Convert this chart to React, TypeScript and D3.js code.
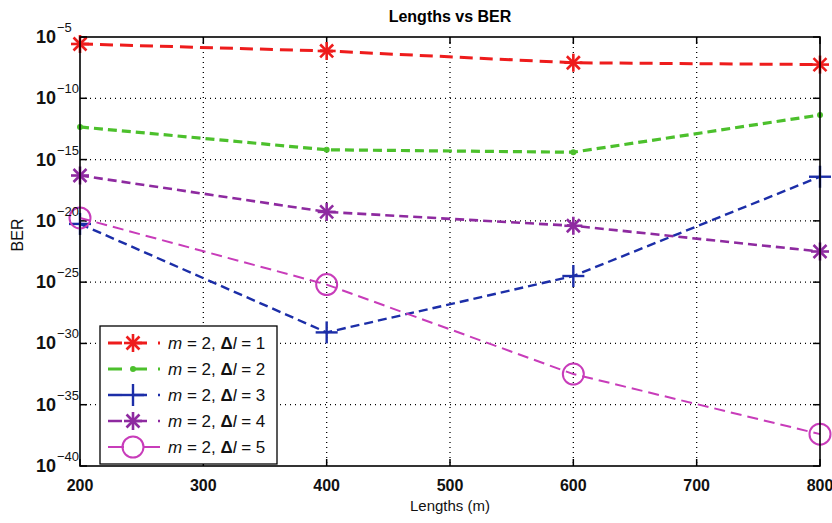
import React from "react";
import * as d3 from "d3";

const lengths = [200, 400, 600, 800];
// log10(BER) values
const series1 = [-5.57, -6.14, -7.1, -7.25];
const series2 = [-12.34, -14.2, -14.4, -11.36];
const series3 = [-20.25, -29.1, -24.5, -16.4];
const series4 = [-16.3, -19.27, -20.4, -22.5];
const series5 = [-19.76, -25.2, -32.5, -37.4];
const deltaL = [1, 2, 3, 4, 5];
const colors = ["#ee1c1c", "#4cc02c", "#1c2ea8", "#8e2aa0", "#c83cba"];
const markers = ["asterisk", "point", "plus", "asterisk", "circle"];
const xTicks = [200, 300, 400, 500, 600, 700, 800];
const yTickExps = [-5, -10, -15, -20, -25, -30, -35, -40];

const allSeries = [series1, series2, series3, series4, series5];
const dashes = ["13,7", "9,5", "9,5", "9,5", "11,6"];
const widths = [3, 3.2, 2.4, 2.6, 2];

const W = 832, H = 523;
const L = 80, R = 820, T = 37, B = 466;

const x = d3.scaleLinear().domain([200, 800]).range([L, R]);
const y = d3.scaleLog().domain([1e-40, 1e-5]).range([B, T]);

function Marker({ type, cx, cy, color }: { type: string; cx: number; cy: number; color: string }) {
  if (type === "asterisk") {
    const r = 9;
    const d = r * 0.72;
    return (
      <g stroke={color} strokeWidth={2.6} strokeLinecap="butt">
        <line x1={cx - r} y1={cy} x2={cx + r} y2={cy} />
        <line x1={cx} y1={cy - r} x2={cx} y2={cy + r} />
        <line x1={cx - d} y1={cy - d} x2={cx + d} y2={cy + d} />
        <line x1={cx - d} y1={cy + d} x2={cx + d} y2={cy - d} />
      </g>
    );
  }
  if (type === "plus") {
    const r = 11;
    return (
      <g stroke={color} strokeWidth={2.4}>
        <line x1={cx - r} y1={cy} x2={cx + r} y2={cy} />
        <line x1={cx} y1={cy - r} x2={cx} y2={cy + r} />
      </g>
    );
  }
  if (type === "circle") {
    return <circle cx={cx} cy={cy} r={10.5} fill="none" stroke={color} strokeWidth={2} />;
  }
  return <circle cx={cx} cy={cy} r={3} fill={color} />;
}

export default function App() {
  const line = d3
    .line<[number, number]>()
    .x((d) => x(d[0]))
    .y((d) => y(Math.pow(10, d[1])));

  const legendRows = [343, 369, 395, 421, 447];

  return (
    <svg width={W} height={H} style={{ display: "block", position: "absolute", left: 0, top: 0 }} fontFamily="Arial, 'Liberation Sans', sans-serif">
      <rect x={0} y={0} width={W} height={H} fill="#fff" />
      {/* grid */}
      <g stroke="#000" strokeWidth={1.3} strokeDasharray="1,4">
        {xTicks.slice(1, -1).map((t) => (
          <line key={"gx" + t} x1={x(t)} x2={x(t)} y1={T} y2={B} />
        ))}
        {yTickExps.slice(1, -1).map((e) => (
          <line key={"gy" + e} x1={L} x2={R} y1={y(Math.pow(10, e))} y2={y(Math.pow(10, e))} />
        ))}
      </g>
      {/* ticks */}
      <g stroke="#000" strokeWidth={1.5}>
        {xTicks.map((t) => (
          <g key={"tx" + t}>
            <line x1={x(t)} x2={x(t)} y1={B} y2={B - 7} />
            <line x1={x(t)} x2={x(t)} y1={T} y2={T + 7} />
          </g>
        ))}
        {yTickExps.map((e) => (
          <g key={"ty" + e}>
            <line x1={L} x2={L + 7} y1={y(Math.pow(10, e))} y2={y(Math.pow(10, e))} />
            <line x1={R} x2={R - 7} y1={y(Math.pow(10, e))} y2={y(Math.pow(10, e))} />
          </g>
        ))}
      </g>
      {/* series */}
      {allSeries.map((s, i) => {
        const pts = lengths.map((l, j) => [l, s[j]] as [number, number]);
        return (
          <g key={"s" + i}>
            <path d={line(pts) || ""} fill="none" stroke={colors[i]} strokeWidth={widths[i]} strokeDasharray={dashes[i]} />
            {pts.map((p, j) => (
              <Marker key={j} type={markers[i]} cx={x(p[0])} cy={y(Math.pow(10, p[1]))} color={colors[i]} />
            ))}
          </g>
        );
      })}
      {/* axes box */}
      <rect x={L} y={T} width={R - L} height={B - T} fill="none" stroke="#000" strokeWidth={1.6} />
      {/* x tick labels */}
      {xTicks.map((t) => (
        <text key={"xl" + t} x={x(t)} y={B + 25} textAnchor="middle" fontSize={16} fontWeight="bold" fill="#111">
          {t}
        </text>
      ))}
      {/* y tick labels */}
      {yTickExps.map((e) => (
        <text key={"yl" + e} x={56} y={y(Math.pow(10, e)) + 6} textAnchor="end" fontSize={18} fontWeight="bold" fill="#111">
          10
        </text>
      ))}
      {yTickExps.map((e) => (
        <text key={"ye" + e} x={57} y={y(Math.pow(10, e)) - 5} textAnchor="start" fontSize={13} fill="#111">
          {"\u2212" + Math.abs(e)}
        </text>
      ))}
      {/* title and labels */}
      <text x={450} y={22} textAnchor="middle" fontSize={16} fontWeight="bold" fill="#000">
        Lengths vs BER
      </text>
      <text x={450} y={511} textAnchor="middle" fontSize={15} fill="#111">
        Lengths (m)
      </text>
      <text transform={`translate(23,${235}) rotate(-90)`} textAnchor="middle" fontSize={16} fill="#111">
        BER
      </text>
      {/* legend */}
      <rect x={100} y={326} width={177} height={138} fill="#fff" stroke="#000" strokeWidth={1.3} />
      {deltaL.map((dl, i) => (
        <g key={"lg" + i}>
          <line x1={108} x2={160} y1={legendRows[i]} y2={legendRows[i]} stroke={colors[i]} strokeWidth={widths[i]} strokeDasharray={i === 4 ? "16,20" : "14,11"} />
          <Marker type={markers[i]} cx={133} cy={legendRows[i]} color={colors[i]} />
          <text x={168} y={legendRows[i] + 6} fontSize={17} fill="#111">
            <tspan fontStyle="italic">m</tspan>
            <tspan> = 2, </tspan>
            <tspan fontWeight="bold">Δ</tspan>
            <tspan fontStyle="italic">l</tspan>
            <tspan>{" = " + dl}</tspan>
          </text>
        </g>
      ))}
    </svg>
  );
}
